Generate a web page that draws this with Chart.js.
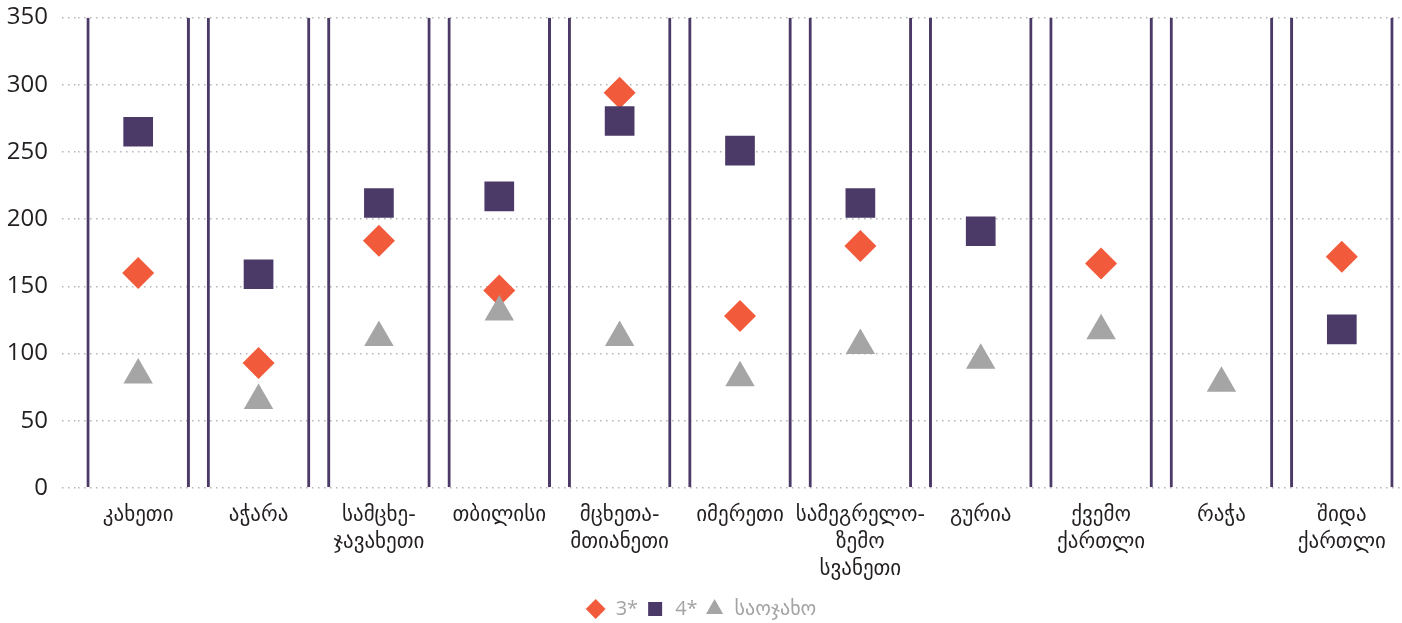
<!DOCTYPE html>
<html lang="ka">
<head>
<meta charset="utf-8">
<title>სასტუმროები რეგიონების მიხედვით</title>
<script src="https://cdn.jsdelivr.net/npm/chart.js@4.4.1/dist/chart.umd.min.js"></script>
<style>
    html, body { margin: 0; padding: 0; background: #ffffff; }
    #chartWrap { position: relative; width: 1402px; height: 623px; }
</style>
</head>
<body>
<div id="chartWrap"><canvas id="regionChart"></canvas></div>
<script>
// Categories (multi-line labels as in the original)
const regions = [
    ["კახეთი"],
    ["აჭარა"],
    ["სამცხე-", "ჯავახეთი"],
    ["თბილისი"],
    ["მცხეთა-", "მთიანეთი"],
    ["იმერეთი"],
    ["სამეგრელო-", "ზემო", "სვანეთი"],
    ["გურია"],
    ["ქვემო", "ქართლი"],
    ["რაჭა"],
    ["შიდა", "ქართლი"]
];

// Series values (null = no point for that region)
const threeStar = [160, 93, 184, 147, 294, 128, 180, null, 167, null, 172];
const fourStar = [265, 159, 212, 217, 273, 251, 212, 191, null, null, 118];
const familyHotel = [84, 65, 112, 131, 112, 82, 106, 95, 117, 78, null];

// Y axis ticks
const yTicks = [0, 50, 100, 150, 200, 250, 300, 350];

const PURPLE = "#4b3a67";
const ORANGE = "#f15a3a";
const GREY = "#a5a5a5";
const TEXT = "#231f20";

// Frame for each region: a floating bar spanning the whole axis, only side borders drawn
const yMin = yTicks[0];
const yMax = yTicks[yTicks.length - 1];
const frames = regions.map(() => [yMin, yMax]);

const ctx = document.getElementById("regionChart").getContext("2d");

new Chart(ctx, {
    data: {
        labels: regions,
        datasets: [
            {
                type: "line",
                label: "3*",
                data: threeStar,
                showLine: false,
                pointStyle: "rectRot",
                pointRadius: 16,
                pointHoverRadius: 16,
                pointBorderWidth: 0,
                borderWidth: 0,
                backgroundColor: ORANGE,
                borderColor: ORANGE,
                order: 3
            },
            {
                type: "line",
                label: "4*",
                data: fourStar,
                showLine: false,
                pointStyle: "rect",
                pointRadius: 21,
                pointHoverRadius: 21,
                pointBorderWidth: 0,
                borderWidth: 0,
                backgroundColor: PURPLE,
                borderColor: PURPLE,
                order: 2
            },
            {
                type: "line",
                label: "საოჯახო",
                data: familyHotel,
                showLine: false,
                pointStyle: "triangle",
                pointRadius: 17,
                pointHoverRadius: 17,
                pointBorderWidth: 0,
                borderWidth: 0,
                backgroundColor: GREY,
                borderColor: GREY,
                order: 1
            },
            {
                type: "bar",
                label: "frame",
                data: frames,
                backgroundColor: "rgba(0,0,0,0)",
                borderColor: PURPLE,
                borderWidth: { left: 3, right: 3, top: 0, bottom: 0 },
                borderSkipped: false,
                barPercentage: 0.86,
                categoryPercentage: 1,
                order: 10
            }
        ]
    },
    options: {
        responsive: true,
        maintainAspectRatio: false,
        animation: false,
        layout: {
            autoPadding: false,
            // legend sits a little lower than Chart.js would put it
            padding: { top: 17.5, right: 0, bottom: -6, left: 0 }
        },
        plugins: {
            tooltip: { enabled: false },
            legend: {
                position: "bottom",
                labels: {
                    usePointStyle: true,
                    boxWidth: 20,
                    boxHeight: 14,
                    padding: 7,
                    color: "#a3a3a3",
                    font: { family: "'Open Sans', 'DejaVu Sans', sans-serif", size: 20 },
                    filter: (item) => item.text !== "frame",
                    sort: (a, b) => a.datasetIndex - b.datasetIndex
                }
            }
        },
        scales: {
            x: {
                type: "category",
                offset: true,
                afterFit: (scale) => {
                    scale.height = 104;
                    scale.paddingLeft = 0;
                    scale.paddingRight = 0;
                },
                grid: { display: false, drawTicks: false },
                border: { display: false },
                ticks: {
                    autoSkip: false,
                    maxRotation: 0,
                    padding: 14,
                    color: TEXT,
                    font: { family: "'DejaVu Sans', sans-serif", size: 21, lineHeight: 1.286 }
                }
            },
            y: {
                min: yMin,
                max: yMax,
                afterFit: (scale) => {
                    scale.width = 78;
                    scale.paddingTop = 0;
                    scale.paddingBottom = 0;
                },
                grid: {
                    color: "#b5b5b5",
                    lineWidth: 1.5,
                    tickLength: 16,
                    tickBorderDash: [1.5, 4.5]
                },
                border: { display: false, dash: [1.5, 4.5] },
                ticks: {
                    stepSize: yTicks[1] - yTicks[0],
                    padding: 14,
                    color: TEXT,
                    font: { family: "'Open Sans', sans-serif", size: 24 }
                }
            }
        }
    }
});
</script>
</body>
</html>
